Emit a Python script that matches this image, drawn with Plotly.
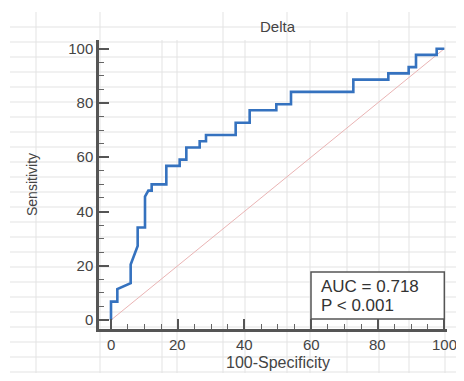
import plotly.graph_objects as go

# ROC curve vertices (100-Specificity, Sensitivity)
fpr = [0, 0, 1.9, 1.9, 5.9, 5.9, 8.0, 8.0, 10.2, 10.2, 11.2, 12.2, 12.2, 16.6, 16.6,
       20.6, 20.6, 22.6, 22.6, 26.6, 26.6, 28.5, 28.5, 37.4, 37.4, 41.6, 41.6,
       49.6, 49.6, 54.0, 54.0, 72.7, 72.7, 83.2, 83.2, 89.3, 89.3, 91.5, 91.5,
       97.7, 97.7, 100]
tpr = [0, 6.8, 6.8, 11.4, 13.6, 20.5, 27.3, 34.1, 34.1, 45.5, 47.7, 47.7, 50.0, 50.0, 56.8,
       56.8, 59.1, 59.1, 63.6, 63.6, 65.9, 65.9, 68.2, 68.2, 72.7, 72.7, 77.3,
       77.3, 79.5, 79.5, 84.1, 84.1, 88.6, 88.6, 90.9, 90.9, 93.2, 93.2, 97.7,
       97.7, 100, 100]
diag = [0, 100]
x_ticks = [0, 20, 40, 60, 80, 100]
y_ticks = [0, 20, 40, 60, 80, 100]
title_text = "Delta"
auc_text = "AUC = 0.718"
p_text = "P < 0.001"

# the page body has an 8px margin on every side; size the figure to fit inside
OFF = 8
W, H = 464 - 2 * OFF, 381 - 2 * OFF
FONT = "Liberation Sans, Arial, sans-serif"

def px_x(p):
    return (p - OFF) / W

def px_y(p):
    return 1 - (p - OFF) / H

fig = go.Figure()
fig.add_trace(go.Scatter(x=diag, y=diag, mode="lines",
                         line=dict(color="#eab4b4", width=1), hoverinfo="skip"))
fig.add_trace(go.Scatter(x=fpr, y=tpr, mode="lines",
                         line=dict(color="#3572bf", width=2.6), hoverinfo="skip"))

shapes = []
# background page grid (decoration)
for yy in range(27, 373, 15):
    shapes.append(dict(type="line", xref="paper", yref="paper",
                       x0=px_x(10), x1=1, y0=px_y(yy), y1=px_y(yy),
                       line=dict(color="#e3e3e3", width=1), layer="below"))
for xx, top in [(36, 12), (100, 12), (162, 40), (177, 40), (223, 12), (245, 40),
                (287, 12), (310, 40), (347, 12), (379, 40), (409, 12), (445, 40)]:
    shapes.append(dict(type="line", xref="paper", yref="paper",
                       x0=px_x(xx), x1=px_x(xx), y0=px_y(top), y1=0,
                       line=dict(color="#e3e3e3", width=1), layer="below"))
# legend box
shapes.append(dict(type="rect", xref="x", yref="y", x0=60, x1=100, y0=0.4, y1=17.7,
                   line=dict(color="#555555", width=1.5), fillcolor="white", layer="below"))

annotations = [
    dict(text=title_text, x=px_x(278), y=px_y(26), xref="paper", yref="paper",
         xanchor="center", yanchor="middle",
         showarrow=False, font=dict(family=FONT, size=15, color="#444444")),
    dict(text="100-Specificity", x=px_x(278), y=px_y(362), xref="paper", yref="paper",
         xanchor="center", yanchor="middle",
         showarrow=False, font=dict(family=FONT, size=16, color="#444444")),
    dict(text="Sensitivity", x=px_x(32), y=px_y(185), xref="paper", yref="paper",
         xanchor="center", yanchor="middle",
         showarrow=False, textangle=-90, font=dict(family=FONT, size=14, color="#444444")),
    dict(text=auc_text, x=62.4, y=12.4, xref="x", yref="y", xanchor="left",
         yanchor="middle",
         showarrow=False, font=dict(family=FONT, size=17, color="#333333")),
    dict(text=p_text, x=62.4, y=5.4, xref="x", yref="y", xanchor="left",
         yanchor="middle",
         showarrow=False, font=dict(family=FONT, size=17, color="#333333")),
]
# x tick labels as text placed at the axis values (so the last one is not auto-hidden)
for v in x_ticks:
    annotations.append(dict(text=str(v), x=v, y=px_y(344), xref="x", yref="paper",
                            xanchor="center", yanchor="middle", showarrow=False,
                            font=dict(family=FONT, size=15, color="#444444")))

axis_common = dict(showgrid=False, zeroline=False, showline=True, linecolor="#555555",
                   linewidth=2.5, ticks="inside", ticklen=10, tickwidth=1.5,
                   tickcolor="#555555", fixedrange=True,
                   minor=dict(dtick=5, ticks="inside", ticklen=5, tickwidth=1,
                              tickcolor="#666666"))

fig.update_layout(
    width=W, height=H,
    margin=dict(l=0, r=0, t=0, b=0),
    paper_bgcolor="white", plot_bgcolor="rgba(0,0,0,0)",
    showlegend=False,
    xaxis=dict(domain=[px_x(99), px_x(447)], range=[-3.6, 100.8],
               tickvals=x_ticks, showticklabels=False, **axis_common),
    yaxis=dict(domain=[px_y(329), px_y(40)], range=[-3.3, 103.2],
               tickvals=y_ticks, tickfont=dict(family=FONT, size=15, color="#444444"),
               **axis_common),
    shapes=shapes,
    annotations=annotations,
)

fig.write_html("out.html")
